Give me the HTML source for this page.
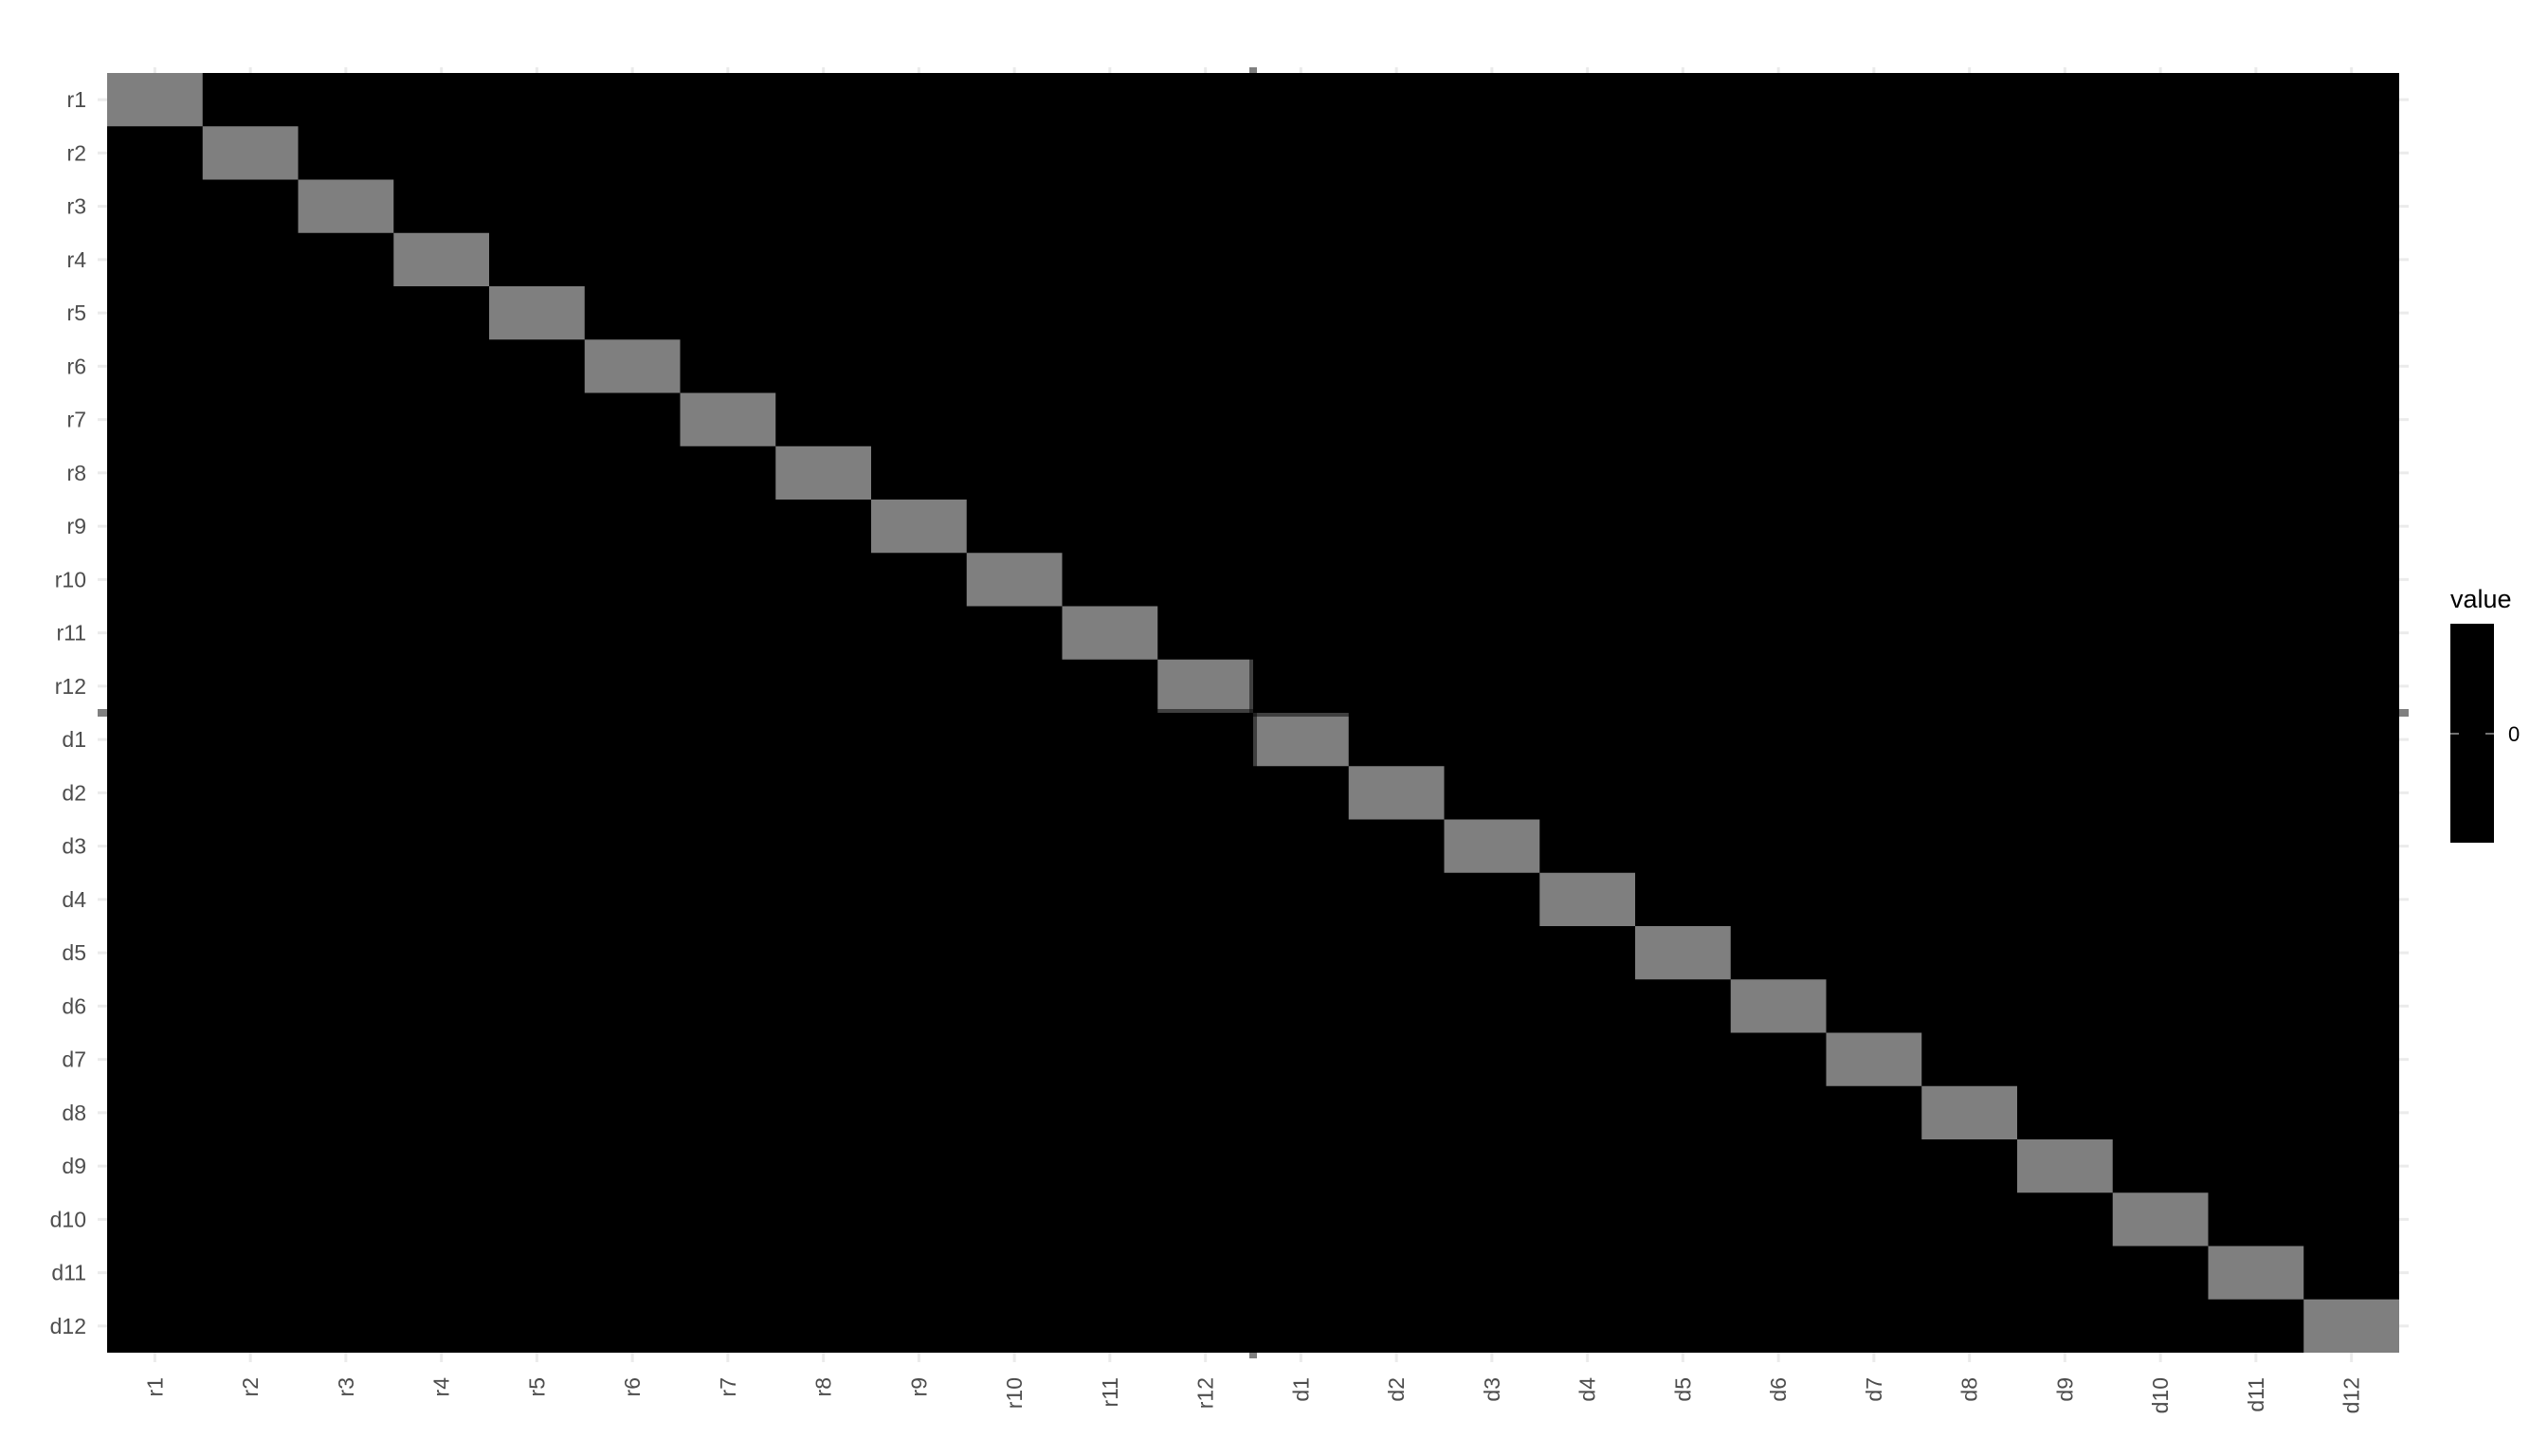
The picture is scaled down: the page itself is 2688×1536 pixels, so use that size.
<!DOCTYPE html>
<html><head><meta charset="utf-8"><style>
html,body{margin:0;padding:0;background:#fff;}
svg{display:block;font-family:"Liberation Sans",sans-serif;}
</style></head><body>
<svg id="chart" width="2688" height="1536" viewBox="0 0 2688 1536" xmlns="http://www.w3.org/2000/svg">
<rect width="2688" height="1536" fill="#fff"/>
<g id="grid"></g>
<rect x="113" y="77" width="2418" height="1350" fill="#000"/>
<g id="cells"></g>
<g id="labels"></g>
<g id="divider"></g>
<g>
  <text x="2585" y="641" font-size="27" fill="#000">value</text>
  <rect x="2585" y="658" width="46" height="231" fill="#000"/>
  <line x1="2585" y1="774" x2="2594" y2="774" stroke="#999" stroke-width="1.5"/>
  <line x1="2622" y1="774" x2="2631" y2="774" stroke="#999" stroke-width="1.5"/>
  <text x="2646" y="782" font-size="22" fill="#000">0</text>
</g>
</svg>
<script>
const rowLabels = ["r1","r2","r3","r4","r5","r6","r7","r8","r9","r10","r11","r12","d1","d2","d3","d4","d5","d6","d7","d8","d9","d10","d11","d12"];
const colLabels = ["r1","r2","r3","r4","r5","r6","r7","r8","r9","r10","r11","r12","d1","d2","d3","d4","d5","d6","d7","d8","d9","d10","d11","d12"];
const highlightRows = [0,1,2,3,4,5,6,7,8,9,10,11,12,13,14,15,16,17,18,19,20,21,22,23];
const highlightCols = [0,1,2,3,4,5,6,7,8,9,10,11,12,13,14,15,16,17,18,19,20,21,22,23];

const NS = "http://www.w3.org/2000/svg";
const PX = 113, PY = 77, PW = 2418, PH = 1350;
const cw = PW / colLabels.length, rh = PH / rowLabels.length;
const xPos = i => PX + i * cw;
const yPos = i => PY + i * rh;
function mk(tag, attrs, parent){const e=document.createElementNS(NS,tag);for(const k in attrs)e.setAttribute(k,attrs[k]);parent.appendChild(e);return e;}
const grid = document.getElementById('grid'), cells = document.getElementById('cells'), labels = document.getElementById('labels'), divider = document.getElementById('divider');

colLabels.forEach((c,i)=>{
  const cx = xPos(i)+cw/2;
  mk('line',{x1:cx,y1:PY-6,x2:cx,y2:PY+PH+10,stroke:'#ebebeb','stroke-width':3},grid);
  const t = mk('text',{x:0,y:0,'font-size':23,fill:'#4d4d4d','text-anchor':'end',transform:`translate(${cx+8},1453) rotate(-90)`},labels);
  t.textContent = c;
  
  
});
rowLabels.forEach((r,i)=>{
  const cy = yPos(i)+rh/2;
  mk('line',{x1:PX-10,y1:cy,x2:PX+PW+10,y2:cy,stroke:'#ebebeb','stroke-width':3},grid);
  const t = mk('text',{x:91,y:cy+8,'font-size':23,fill:'#4d4d4d','text-anchor':'end'},labels);
  t.textContent = r;
  
  
});
highlightRows.forEach((r,k)=>{
  const c = highlightCols[k];
  const rc = mk('rect',{x:xPos(c),y:yPos(r),width:cw,height:rh,fill:'#7f7f7f'},cells);
  
  
});
// block divider lines between r and d groups
const mx = xPos(12), my = yPos(12);
mk('line',{x1:mx,y1:PY,x2:mx,y2:PY+PH,stroke:'rgba(0,0,0,0.5)','stroke-width':8},divider);
mk('line',{x1:PX,y1:my,x2:PX+PW,y2:my,stroke:'rgba(0,0,0,0.5)','stroke-width':8},divider);
mk('line',{x1:mx,y1:PY-6,x2:mx,y2:PY,stroke:'#808080','stroke-width':8},divider);
mk('line',{x1:mx,y1:PY+PH,x2:mx,y2:PY+PH+6,stroke:'#808080','stroke-width':8},divider);
mk('line',{x1:PX-10,y1:my,x2:PX,y2:my,stroke:'#808080','stroke-width':8},divider);
mk('line',{x1:PX+PW,y1:my,x2:PX+PW+10,y2:my,stroke:'#808080','stroke-width':8},divider);


</script>
</body></html>
